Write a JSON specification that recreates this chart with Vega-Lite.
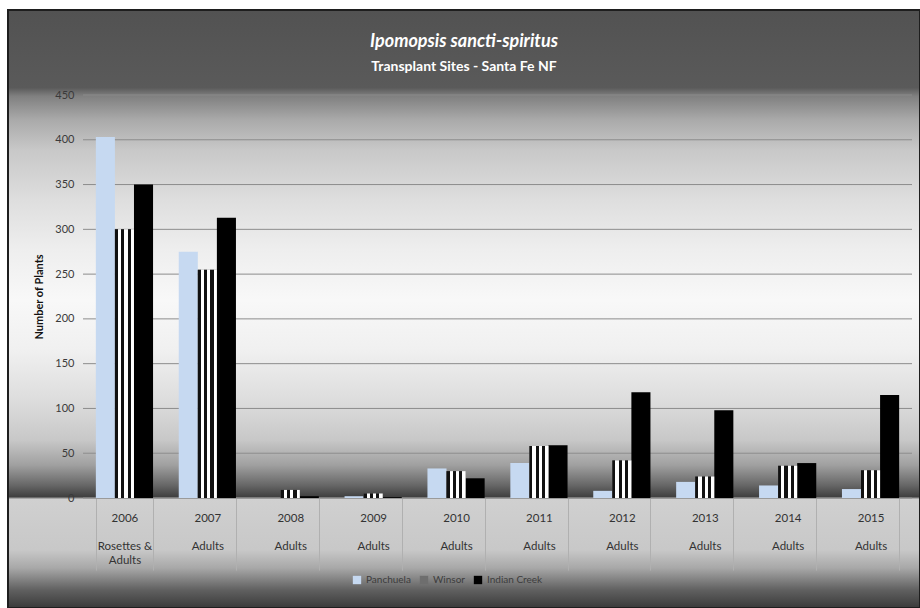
{
  "$schema": "https://vega.github.io/schema/vega-lite/v6.json",
  "width": 920,
  "height": 608,
  "autosize": {"type": "fit", "contains": "padding"},
  "padding": {"left": 8, "top": 10, "right": 0, "bottom": 0},
  "background": "white",
  "config": {
    "font": "Lato",
    "view": {
      "stroke": "#1e1e1e",
      "strokeWidth": 2,
      "fill": {
        "gradient": "linear", "x1": 0, "y1": 0, "x2": 0, "y2": 1,
        "stops": [
          {"offset": 0, "color": "#525252"},
          {"offset": 0.13, "color": "#5a5a5a"},
          {"offset": 0.144, "color": "#808080"},
          {"offset": 0.184, "color": "#aaaaaa"},
          {"offset": 0.234, "color": "#c8c8c8"},
          {"offset": 0.318, "color": "#dedede"},
          {"offset": 0.401, "color": "#eeeeee"},
          {"offset": 0.485, "color": "#f8f8f8"},
          {"offset": 0.569, "color": "#f0f0f0"},
          {"offset": 0.652, "color": "#dddddd"},
          {"offset": 0.719, "color": "#c8c8c8"},
          {"offset": 0.761, "color": "#a0a0a0"},
          {"offset": 0.794, "color": "#686868"},
          {"offset": 0.814, "color": "#404040"},
          {"offset": 0.818, "color": "#d0d0d0"},
          {"offset": 0.903, "color": "#c8c8c8"},
          {"offset": 0.933, "color": "#a8a8a8"},
          {"offset": 0.97, "color": "#606060"},
          {"offset": 1, "color": "#3a3a3a"}
        ]
      }
    }
  },
  "title": {
    "text": "Ipomopsis sancti-spiritus",
    "subtitle": "Transplant Sites - Santa Fe NF",
    "anchor": "middle",
    "frame": "group",
    "offset": -64,
    "color": "white",
    "font": "Lato",
    "fontSize": 18,
    "fontStyle": "italic",
    "fontWeight": "bold",
    "subtitleColor": "white",
    "subtitleFont": "Lato",
    "subtitleFontSize": 14,
    "subtitleFontWeight": "bold",
    "subtitlePadding": 9
  },
  "datasets": {
    "plants": [
      {"year": "2006", "site": "Panchuela", "count": 403},
      {"year": "2006", "site": "Winsor", "count": 300},
      {"year": "2006", "site": "Indian Creek", "count": 350},
      {"year": "2007", "site": "Panchuela", "count": 275},
      {"year": "2007", "site": "Winsor", "count": 255},
      {"year": "2007", "site": "Indian Creek", "count": 313},
      {"year": "2008", "site": "Panchuela", "count": 0},
      {"year": "2008", "site": "Winsor", "count": 9},
      {"year": "2008", "site": "Indian Creek", "count": 2},
      {"year": "2009", "site": "Panchuela", "count": 2},
      {"year": "2009", "site": "Winsor", "count": 5},
      {"year": "2009", "site": "Indian Creek", "count": 1},
      {"year": "2010", "site": "Panchuela", "count": 33},
      {"year": "2010", "site": "Winsor", "count": 30},
      {"year": "2010", "site": "Indian Creek", "count": 22},
      {"year": "2011", "site": "Panchuela", "count": 39},
      {"year": "2011", "site": "Winsor", "count": 58},
      {"year": "2011", "site": "Indian Creek", "count": 59},
      {"year": "2012", "site": "Panchuela", "count": 8},
      {"year": "2012", "site": "Winsor", "count": 42},
      {"year": "2012", "site": "Indian Creek", "count": 118},
      {"year": "2013", "site": "Panchuela", "count": 18},
      {"year": "2013", "site": "Winsor", "count": 24},
      {"year": "2013", "site": "Indian Creek", "count": 98},
      {"year": "2014", "site": "Panchuela", "count": 14},
      {"year": "2014", "site": "Winsor", "count": 36},
      {"year": "2014", "site": "Indian Creek", "count": 39},
      {"year": "2015", "site": "Panchuela", "count": 10},
      {"year": "2015", "site": "Winsor", "count": 31},
      {"year": "2015", "site": "Indian Creek", "count": 115}
    ],
    "gridlines": [
      {"v": 0}, {"v": 50}, {"v": 100}, {"v": 150}, {"v": 200},
      {"v": 250}, {"v": 300}, {"v": 350}, {"v": 400}, {"v": 450}
    ]
  },
  "resolve": {"scale": {"x": "independent"}, "axis": {"x": "independent"}},
  "layer": [
    {
      "data": {"name": "gridlines"},
      "mark": {"type": "rule", "color": "#8c8c8c", "strokeWidth": 1},
      "encoding": {
        "x": {"datum": 0, "type": "quantitative", "scale": {"domain": [0, 1], "range": [75, 904]}, "axis": null},
        "x2": {"datum": 1},
        "y": {
          "field": "v",
          "type": "quantitative",
          "scale": {"domain": [0, 450], "range": [488, 85], "nice": false},
          "axis": {
            "title": "Number of Plants",
            "orient": "left",
            "offset": -74,
            "values": [0, 50, 100, 150, 200, 250, 300, 350, 400, 450],
            "grid": false,
            "ticks": false,
            "domain": false,
            "labelPadding": 8,
            "labelFontSize": 11,
            "labelColor": "#3a3a3a",
            "labelFont": "Lato",
            "titleFont": "Lato",
            "titleFontSize": 11,
            "titleFontWeight": "bold",
            "titleColor": "#111111",
            "titlePadding": 10
          }
        }
      }
    },
    {
      "data": {"name": "plants"},
      "encoding": {
        "x": {
          "field": "year",
          "type": "nominal",
          "scale": {"range": [75, 904], "paddingInner": 0.31, "paddingOuter": 0.155},
          "axis": {
            "title": null,
            "orient": "bottom",
            "offset": -110,
            "domain": false,
            "labelAngle": 0,
            "tickBand": "extent",
            "tickSize": 72,
            "tickColor": "#b0b0b0",
            "tickWidth": 1,
            "labelPadding": -58,
            "labelExpr": "datum.label ? (datum.label == '2006' ? ['2006', '\u2800', 'Rosettes &', 'Adults'] : [datum.label, '\u2800', 'Adults']) : ''",
            "labelLineHeight": 14,
            "labelFontSize": 11.5,
            "labelColor": "#333333",
            "labelFont": "Lato"
          }
        },
        "xOffset": {
          "field": "site",
          "type": "nominal",
          "scale": {"domain": ["Panchuela", "Winsor", "Indian Creek"]}
        },
        "y": {"field": "count", "type": "quantitative"}
      },
      "layer": [
        {
          "mark": {"type": "bar"},
          "encoding": {
            "color": {
              "field": "site",
              "type": "nominal",
              "scale": {"domain": ["Panchuela", "Winsor", "Indian Creek"], "range": ["#c6d9f1", "#6e6e6e", "#000000"]},
              "legend": {
                "orient": "none",
                "legendX": 344,
                "legendY": 565,
                "direction": "horizontal",
                "title": null,
                "symbolType": "square",
                "symbolSize": 70,
                "symbolStrokeWidth": 0,
                "labelFontSize": 10,
                "labelFont": "Lato",
                "labelColor": "#3c3c3c",
                "columnPadding": 8
              }
            }
          }
        },
        {
          "transform": [{"filter": "datum.site === 'Winsor'"}],
          "mark": {
            "type": "bar",
            "fill": {
              "gradient": "linear", "x1": 0, "y1": 0, "x2": 1, "y2": 0,
              "stops": [
                {"offset": 0, "color": "#111111"},
                {"offset": 0.16, "color": "#111111"},
                {"offset": 0.16, "color": "#ffffff"},
                {"offset": 0.33, "color": "#ffffff"},
                {"offset": 0.33, "color": "#111111"},
                {"offset": 0.5, "color": "#111111"},
                {"offset": 0.5, "color": "#ffffff"},
                {"offset": 0.66, "color": "#ffffff"},
                {"offset": 0.66, "color": "#111111"},
                {"offset": 0.83, "color": "#111111"},
                {"offset": 0.83, "color": "#ffffff"},
                {"offset": 1, "color": "#ffffff"}
              ]
            }
          },
          "encoding": {}
        }
      ]
    }
  ]
}
